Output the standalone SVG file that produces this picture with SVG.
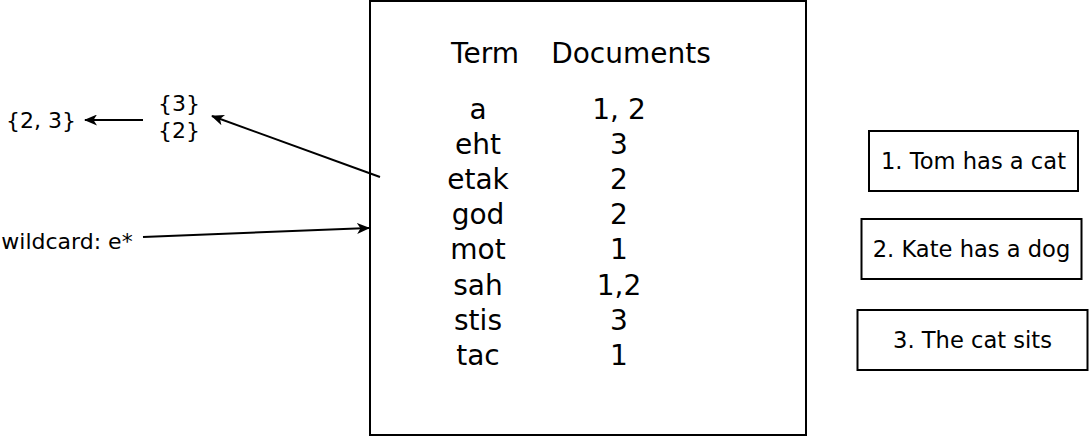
<svg xmlns="http://www.w3.org/2000/svg" width="1089" height="436" viewBox="0 0 1089 436">
<style>
.t{font-family:"DejaVu Sans",sans-serif;fill:#000}
.big{font-size:28px}
.sm{font-size:22px}
.bx{font-size:22.6px}
.box{fill:#fff;stroke:#000;stroke-width:2}
.c{stroke:#000;stroke-width:2;fill:none}
</style>
<defs>
<marker id="ah" viewBox="0 0 13 11" refX="12" refY="5.5" markerWidth="13" markerHeight="11" markerUnits="userSpaceOnUse" orient="auto">
<path d="M0,0 L13,5.5 L0,11 L3.5,5.5 Z" fill="#000"/>
</marker>
</defs>
<rect width="1089" height="436" fill="#fff"/>
<g id="index">
<rect class="box" x="370" y="1" width="436" height="434"/>
<text class="t big" x="485" y="63" text-anchor="middle">Term</text>
<text class="t big" x="631" y="63" text-anchor="middle">Documents</text>
<g class="t big" text-anchor="middle">
<text x="478" y="118.5">a</text>
<text x="478" y="153.7">eht</text>
<text x="478" y="188.9">etak</text>
<text x="478" y="224.1">god</text>
<text x="478" y="259.3">mot</text>
<text x="478" y="294.5">sah</text>
<text x="478" y="329.7">stis</text>
<text x="478" y="364.9">tac</text>
<text x="619" y="118.5">1, 2</text>
<text x="619" y="153.7">3</text>
<text x="619" y="188.9">2</text>
<text x="619" y="224.1">2</text>
<text x="619" y="259.3">1</text>
<text x="619" y="294.5">1,2</text>
<text x="619" y="329.7">3</text>
<text x="619" y="364.9">1</text>
</g>
</g>
<g id="result">
<text class="t sm" x="41" y="128" text-anchor="middle">{2, 3}</text>
</g>
<g id="sets">
<text class="t sm" x="179" y="111" text-anchor="middle">{3}</text>
<text class="t sm" x="179" y="138" text-anchor="middle">{2}</text>
</g>
<g id="wildcard">
<text class="t sm" x="67" y="249" text-anchor="middle">wildcard: e*</text>
</g>
<g id="doc1">
<rect class="box" x="869" y="131" width="209" height="60"/>
<text class="t bx" x="973.5" y="169" text-anchor="middle">1. Tom has a cat</text>
</g>
<g id="doc2">
<rect class="box" x="861.5" y="219" width="220" height="60"/>
<text class="t bx" x="971.5" y="257" text-anchor="middle">2. Kate has a dog</text>
</g>
<g id="doc3">
<rect class="box" x="857.5" y="310" width="230" height="60"/>
<text class="t bx" x="972.5" y="348" text-anchor="middle">3. The cat sits</text>
</g>
<g id="connectors">
<line class="c" x1="143" y1="120" x2="85" y2="120" marker-end="url(#ah)"/>
<line class="c" x1="380" y1="177" x2="212" y2="116" marker-end="url(#ah)"/>
<line class="c" x1="143" y1="237" x2="369" y2="228" marker-end="url(#ah)"/>
</g>
</svg>
